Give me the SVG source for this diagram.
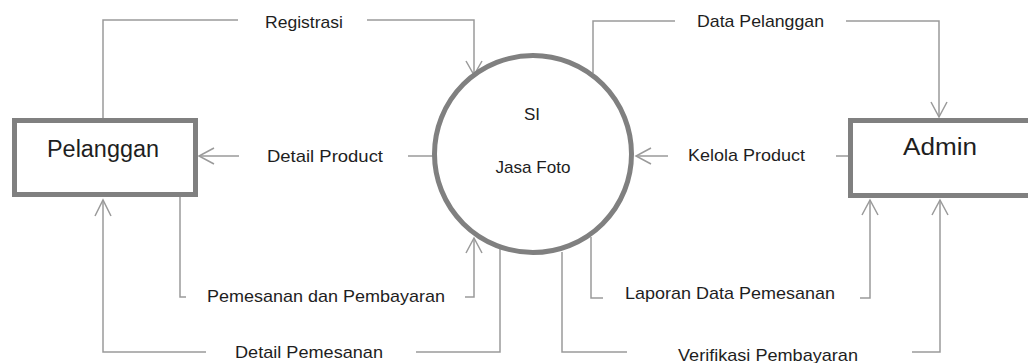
<svg xmlns="http://www.w3.org/2000/svg" width="1028" height="363" viewBox="0 0 1028 363">
  <style>
    .node { fill: #ffffff; stroke: #808080; stroke-width: 5; }
    .conn { fill: none; stroke: #9a9a9a; stroke-width: 1.5; }
    .head { fill: none; stroke: #9a9a9a; stroke-width: 1.5; }
    .lbl { font-family: "Liberation Sans", Arial, sans-serif; font-size: 17px; fill: #1e1e1e; }
    .title { font-family: "Liberation Sans", Arial, sans-serif; font-size: 23px; fill: #1e1e1e; }
  </style>
  <rect width="1028" height="363" fill="#ffffff"/>

  <g id="connectors">
    <!-- Registrasi: Pelanggan -> SI -->
    <polyline class="conn" points="103,118 103,20 238,20"/>
    <polyline class="conn" points="367,20 474,20 474,75"/>
    <polyline class="head" points="466,61 474,75 482,61"/>
    <!-- Detail Product: SI -> Pelanggan -->
    <polyline class="conn" points="199,156 239,156"/>
    <polyline class="head" points="214,148 199,156 214,164"/>
    <polyline class="conn" points="408,156 433,156"/>
    <!-- Pemesanan dan Pembayaran: Pelanggan -> SI -->
    <polyline class="conn" points="180,197 180,297 186,297"/>
    <polyline class="conn" points="465,297 474,297 474,238"/>
    <polyline class="head" points="466,253 474,238 482,253"/>
    <!-- Detail Pemesanan: SI -> Pelanggan -->
    <polyline class="conn" points="500,249 500,352 416,352"/>
    <polyline class="conn" points="206,352 103,352 103,200"/>
    <polyline class="head" points="95,216 103,200 111,216"/>
    <!-- Data Pelanggan: SI -> Admin -->
    <polyline class="conn" points="593,73 593,21 675,21"/>
    <polyline class="conn" points="846,21 939,21 939,117"/>
    <polyline class="head" points="931,102 939,117 947,102"/>
    <!-- Kelola Product: Admin -> SI -->
    <polyline class="conn" points="636,156 668,156"/>
    <polyline class="head" points="651,148 636,156 651,164"/>
    <polyline class="conn" points="836,156 848,156"/>
    <!-- Laporan Data Pemesanan: SI -> Admin -->
    <polyline class="conn" points="591,237 591,298 603,298"/>
    <polyline class="conn" points="860,298 870,298 870,200"/>
    <polyline class="head" points="862,215 870,200 878,215"/>
    <!-- Verifikasi Pembayaran: SI -> Admin -->
    <polyline class="conn" points="562,252 562,352 627,352"/>
    <polyline class="conn" points="912,352 940,352 940,200"/>
    <polyline class="head" points="932,215 940,200 948,215"/>
  </g>

  <g id="labels">
    <text class="lbl" x="265" y="28" textLength="78" lengthAdjust="spacingAndGlyphs">Registrasi</text>
    <text class="lbl" x="267" y="162" textLength="116" lengthAdjust="spacingAndGlyphs">Detail Product</text>
    <text class="lbl" x="207" y="302" textLength="238" lengthAdjust="spacingAndGlyphs">Pemesanan dan Pembayaran</text>
    <text class="lbl" x="235" y="358" textLength="148" lengthAdjust="spacingAndGlyphs">Detail Pemesanan</text>
    <text class="lbl" x="697" y="27" textLength="127" lengthAdjust="spacingAndGlyphs">Data Pelanggan</text>
    <text class="lbl" x="688" y="161" textLength="117" lengthAdjust="spacingAndGlyphs">Kelola Product</text>
    <text class="lbl" x="625" y="299" textLength="210" lengthAdjust="spacingAndGlyphs">Laporan Data Pemesanan</text>
    <text class="lbl" x="678" y="361" textLength="180" lengthAdjust="spacingAndGlyphs">Verifikasi Pembayaran</text>
  </g>

  <g id="pelanggan">
    <rect class="node" x="14.5" y="120.5" width="181" height="74"/>
    <text class="title" x="47" y="157" textLength="112" lengthAdjust="spacingAndGlyphs">Pelanggan</text>
  </g>

  <g id="si-jasa-foto">
    <circle class="node" cx="533" cy="154" r="98.5"/>
    <text class="lbl" x="532" y="120" text-anchor="middle">SI</text>
    <text class="lbl" x="533" y="173" text-anchor="middle" textLength="75" lengthAdjust="spacingAndGlyphs">Jasa Foto</text>
  </g>

  <g id="admin">
    <rect class="node" x="850.5" y="120.5" width="200" height="75"/>
    <text class="title" x="903" y="155" textLength="74" lengthAdjust="spacingAndGlyphs">Admin</text>
  </g>
</svg>
